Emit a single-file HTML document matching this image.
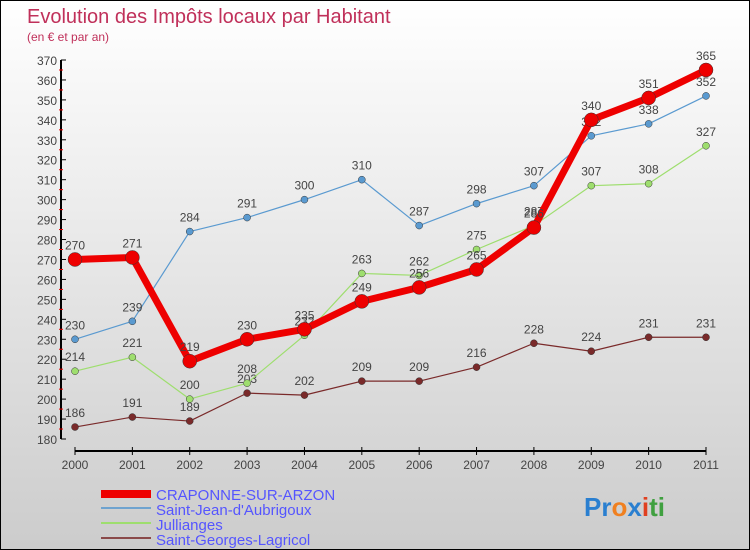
<!DOCTYPE html>
<html><head><meta charset="utf-8"><style>
body{margin:0}
#c{width:748px;height:548px;border:1px solid #000;background:linear-gradient(#fff,#ccc);position:relative;font-family:"Liberation Sans",sans-serif;overflow:hidden}
</style></head><body>
<div id="c">
<svg width="748" height="548" id="s">
<text x="26" y="22" font-size="20" fill="#c0305a">Evolution des Impôts locaux par Habitant</text>
<text x="26" y="40" font-size="12" fill="#c0305a">(en € et par an)</text>
<g id="axes"></g><g id="series"></g>
<g>
<rect x="100" y="489" width="50" height="8" fill="#e00"/>
<text x="155" y="499" font-size="15" fill="#55f">CRAPONNE-SUR-ARZON</text>
<line x1="100" y1="507" x2="150" y2="507" stroke="#6fa3cf" stroke-width="2"/>
<text x="155" y="514" font-size="15" fill="#55f">Saint-Jean-d'Aubrigoux</text>
<line x1="100" y1="522" x2="150" y2="522" stroke="#9ede6e" stroke-width="2"/>
<text x="155" y="529" font-size="15" fill="#55f">Jullianges</text>
<line x1="100" y1="537" x2="150" y2="537" stroke="#8a4a4a" stroke-width="2"/>
<text x="155" y="544" font-size="15" fill="#55f">Saint-Georges-Lagricol</text>
</g>
<text x="583" y="515" font-size="26" font-weight="bold"><tspan fill="#2a7fd0">Pr</tspan><tspan fill="#f08020">o</tspan><tspan fill="#2a7fd0">x</tspan><tspan fill="#e04020">i</tspan><tspan fill="#40a040">ti</tspan></text>
</svg></div>
<script>
const years=["2000","2001","2002","2003","2004","2005","2006","2007","2008","2009","2010","2011"];
const craponne=[270,271,219,230,235,249,256,265,286,340,351,365];
const saintJean=[230,239,284,291,300,310,287,298,307,332,338,352];
const jullianges=[214,221,200,208,232,263,262,275,287,307,308,327];
const saintGeorges=[186,191,189,203,202,209,209,216,228,224,231,231];
const yTicks=[180,190,200,210,220,230,240,250,260,270,280,290,300,310,320,330,340,350,360,370];
const NS="http://www.w3.org/2000/svg";
const X=i=>74+i*(631/11), Y=v=>438-(v-180)*(379/190);
function mk(t,a,p){const e=document.createElementNS(NS,t);for(const k in a)e.setAttribute(k,a[k]);p.appendChild(e);return e;}
const ax=document.getElementById('axes');
let l=mk('line',{x1:60,y1:Y(370),x2:60,y2:Y(180),stroke:'#000','stroke-width':2},ax);


l=mk('line',{x1:74,y1:450,x2:705,y2:450,stroke:'#000','stroke-width':2},ax);


yTicks.forEach(v=>{
 mk('line',{x1:60,y1:Y(v),x2:65,y2:Y(v),stroke:'#000'},ax);
 if(v<370)mk('line',{x1:58,y1:Y(v+5),x2:62,y2:Y(v+5),stroke:'#e00'},ax);
 const t=mk('text',{x:56,y:Y(v)+5,'font-size':12,fill:'#444','text-anchor':'end'},ax);t.textContent=v;
 
 
});
years.forEach((y,i)=>{
 mk('line',{x1:X(i),y1:446,x2:X(i),y2:454,stroke:'#000'},ax);
 const t=mk('text',{x:X(i),y:468,'font-size':12,fill:'#444','text-anchor':'middle'},ax);t.textContent=y;
 
 
});
const sg=document.getElementById('series');
function draw(d,col,w,r,name){
 const g=mk('g',{},sg);
 
 
 mk('polyline',{points:d.map((v,i)=>X(i)+','+Y(v)).join(' '),fill:'none',stroke:col,'stroke-width':w,'stroke-linejoin':'round'},g);
 d.forEach((v,i)=>{
  const c=mk('circle',{cx:X(i),cy:Y(v),r:r,fill:col,stroke:'#333','stroke-width':0.5},g);
  
  
  const t=mk('text',{x:X(i),y:Y(v)-10,'font-size':12,fill:'#444','text-anchor':'middle'},g);t.textContent=v;
 });
}
draw(saintGeorges,'#7a2a2a',1.2,3.5,'series-saint-georges');
draw(jullianges,'#9ede6e',1.2,3.5,'series-jullianges');
draw(saintJean,'#5a9ad0',1.2,3.5,'series-saint-jean');
draw(craponne,'#e00',7,7,'series-craponne');
</script>
</body></html>
